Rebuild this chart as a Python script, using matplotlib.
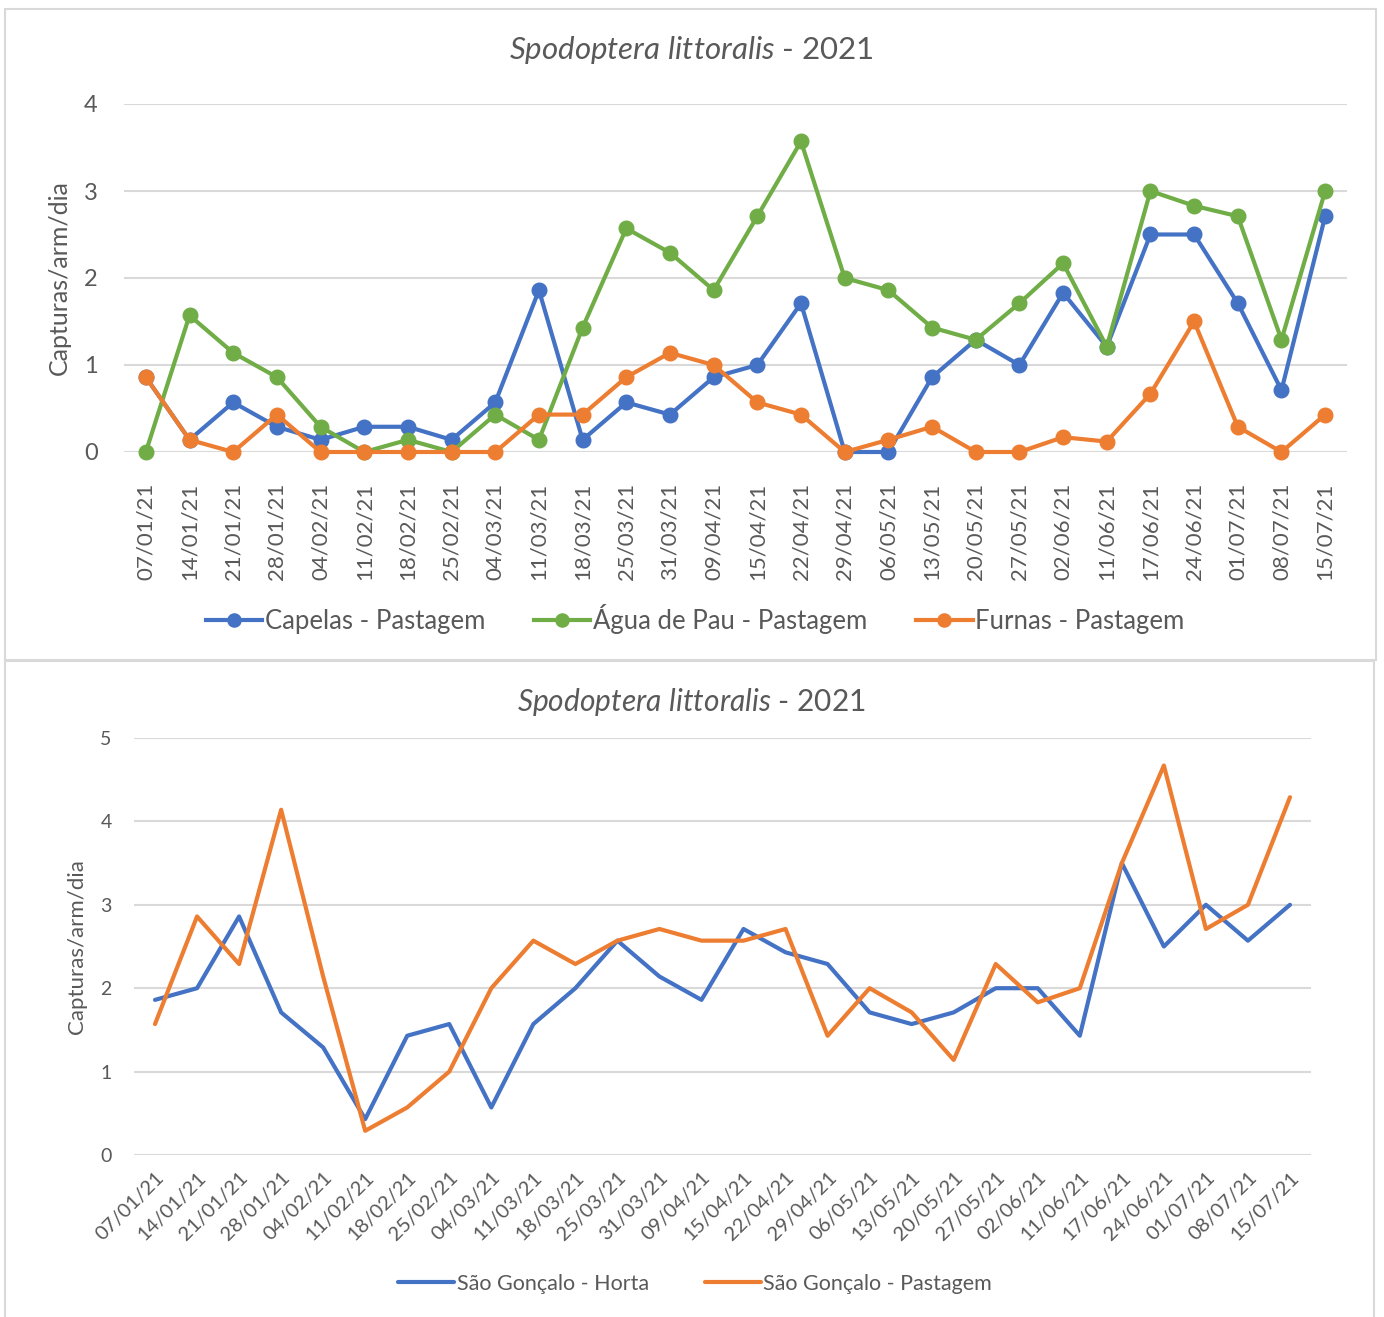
import matplotlib
matplotlib.use("Agg")
import matplotlib.pyplot as plt
from matplotlib.patches import Rectangle

plt.rcParams['font.family'] = ['Lato', 'DejaVu Sans']
plt.rcParams['mathtext.fontset'] = 'custom'
plt.rcParams['mathtext.it'] = 'Lato:italic'
plt.rcParams['mathtext.rm'] = 'Lato'

dates = ["07/01/21", "14/01/21", "21/01/21", "28/01/21", "04/02/21", "11/02/21", "18/02/21",
         "25/02/21", "04/03/21", "11/03/21", "18/03/21", "25/03/21", "31/03/21", "09/04/21",
         "15/04/21", "22/04/21", "29/04/21", "06/05/21", "13/05/21", "20/05/21", "27/05/21",
         "02/06/21", "11/06/21", "17/06/21", "24/06/21", "01/07/21", "08/07/21", "15/07/21"]

capelas = [0.86, 0.14, 0.57, 0.29, 0.14, 0.29, 0.29, 0.14, 0.57, 1.86, 0.14, 0.57, 0.43, 0.86,
           1.0, 1.71, 0.0, 0.0, 0.86, 1.29, 1.0, 1.83, 1.21, 2.5, 2.5, 1.71, 0.71, 2.71]
agua_de_pau = [0.0, 1.57, 1.14, 0.86, 0.29, 0.0, 0.14, 0.0, 0.43, 0.14, 1.43, 2.57, 2.29, 1.86,
               2.71, 3.57, 2.0, 1.86, 1.43, 1.29, 1.71, 2.17, 1.21, 3.0, 2.83, 2.71, 1.29, 3.0]
furnas = [0.86, 0.14, 0.0, 0.43, 0.0, 0.0, 0.0, 0.0, 0.0, 0.43, 0.43, 0.86, 1.14, 1.0,
          0.57, 0.43, 0.0, 0.14, 0.29, 0.0, 0.0, 0.17, 0.12, 0.67, 1.5, 0.29, 0.0, 0.43]

sg_horta = [1.86, 2.0, 2.86, 1.71, 1.29, 0.43, 1.43, 1.57, 0.57, 1.57, 2.0, 2.57, 2.14, 1.86,
            2.71, 2.43, 2.29, 1.71, 1.57, 1.71, 2.0, 2.0, 1.43, 3.5, 2.5, 3.0, 2.57, 3.0]
sg_pastagem = [1.57, 2.86, 2.29, 4.14, 2.14, 0.29, 0.57, 1.0, 2.0, 2.57, 2.29, 2.57, 2.71, 2.57,
               2.57, 2.71, 1.43, 2.0, 1.71, 1.14, 2.29, 1.83, 2.0, 3.5, 4.67, 2.71, 3.0, 4.29]

title = r"$\it{Spodoptera\ littoralis}$ - 2021"
ylabel = "Capturas/arm/dia"

BLUE = "#4472C4"
ORANGE = "#ED7D31"
GREEN = "#70AD47"
GRID = "#D9D9D9"
TXT = "#595959"

W, H = 1384, 1317
fig = plt.figure(figsize=(W / 100, H / 100), dpi=100)

def px_rect(x0, y0, x1, y1):
    return [x0 / W, (H - y1) / H, (x1 - x0) / W, (y1 - y0) / H]

# chart frames
fig.patches.append(Rectangle((5 / W, (H - 660) / H), 1371 / W, 651 / H, transform=fig.transFigure,
                             fill=False, edgecolor=GRID, linewidth=1.5))
fig.patches.append(Rectangle((5 / W, (H - 1330) / H), 1369 / W, 669 / H, transform=fig.transFigure,
                             fill=False, edgecolor=GRID, linewidth=1.5))

n = len(capelas)
xs = list(range(n))

def style_axes(ax, ymax, tick_fs, ypad):
    ax.set_xlim(-0.5, n - 0.5)
    ax.set_ylim(0, ymax)
    ax.set_yticks(range(0, ymax + 1))
    ax.grid(axis='y', color=GRID, linewidth=1.5)
    ax.set_axisbelow(True)
    for s in ax.spines.values():
        s.set_visible(False)
    ax.tick_params(axis='y', length=0, pad=ypad, labelsize=tick_fs, labelcolor=TXT)
    ax.tick_params(axis='x', length=0, labelcolor=TXT)
    ax.set_xticks(xs)

# ---------- top chart ----------
ax1 = fig.add_axes(px_rect(124, 104, 1347, 452))
style_axes(ax1, 4, 17, 19)
lw, ms = 3.0, 10.5
ax1.plot(xs, capelas, color=BLUE, lw=lw, marker='o', ms=ms, label="Capelas - Pastagem", clip_on=False)
ax1.plot(xs, agua_de_pau, color=GREEN, lw=lw, marker='o', ms=ms, label="Água de Pau - Pastagem", clip_on=False)
ax1.plot(xs, furnas, color=ORANGE, lw=lw, marker='o', ms=ms, label="Furnas - Pastagem", clip_on=False)
ax1.set_xticklabels(dates, rotation=90, fontsize=16, va='top', ha='center')
ax1.tick_params(axis='x', pad=22)
ax1.set_ylabel(ylabel, fontsize=18, color=TXT)
ax1.yaxis.set_label_coords((71 - 124) / 1223, 0.5)
fig.text(691 / W, 1 - 50 / H, title, fontsize=22.5, color=TXT, ha='center', va='center')
h1, l1 = ax1.get_legend_handles_labels()
fig.legend(h1, l1, loc='center', bbox_to_anchor=(695 / W, 1 - 619 / H), ncol=3, frameon=False,
           fontsize=18.5, labelcolor=TXT, handlelength=2.2, handletextpad=0.1, columnspacing=1.9,
           markerscale=0.9)

# ---------- bottom chart ----------
ax2 = fig.add_axes(px_rect(134, 738, 1311, 1155))
style_axes(ax2, 5, 14, 16)
ax2.plot(xs, sg_horta, color=BLUE, lw=3.0, label="São Gonçalo - Horta", solid_capstyle='round')
ax2.plot(xs, sg_pastagem, color=ORANGE, lw=3.0, label="São Gonçalo - Pastagem", solid_capstyle='round')
ax2.set_xticklabels(dates, rotation=45, fontsize=14.5, ha='right', va='top', rotation_mode='anchor')
ax2.tick_params(axis='x', pad=10)
ax2.set_ylabel(ylabel, fontsize=16, color=TXT)
ax2.yaxis.set_label_coords((87 - 134) / 1177, 0.5)
fig.text(691 / W, 1 - 702 / H, title, fontsize=21.5, color=TXT, ha='center', va='center')
h2, l2 = ax2.get_legend_handles_labels()
fig.legend(h2, l2, loc='center', bbox_to_anchor=(695 / W, 1 - 1284 / H), ncol=2, frameon=False,
           fontsize=15.5, labelcolor=TXT, handlelength=2.6, handletextpad=0.1, columnspacing=2.6)

fig.savefig("out.png", dpi=100)
